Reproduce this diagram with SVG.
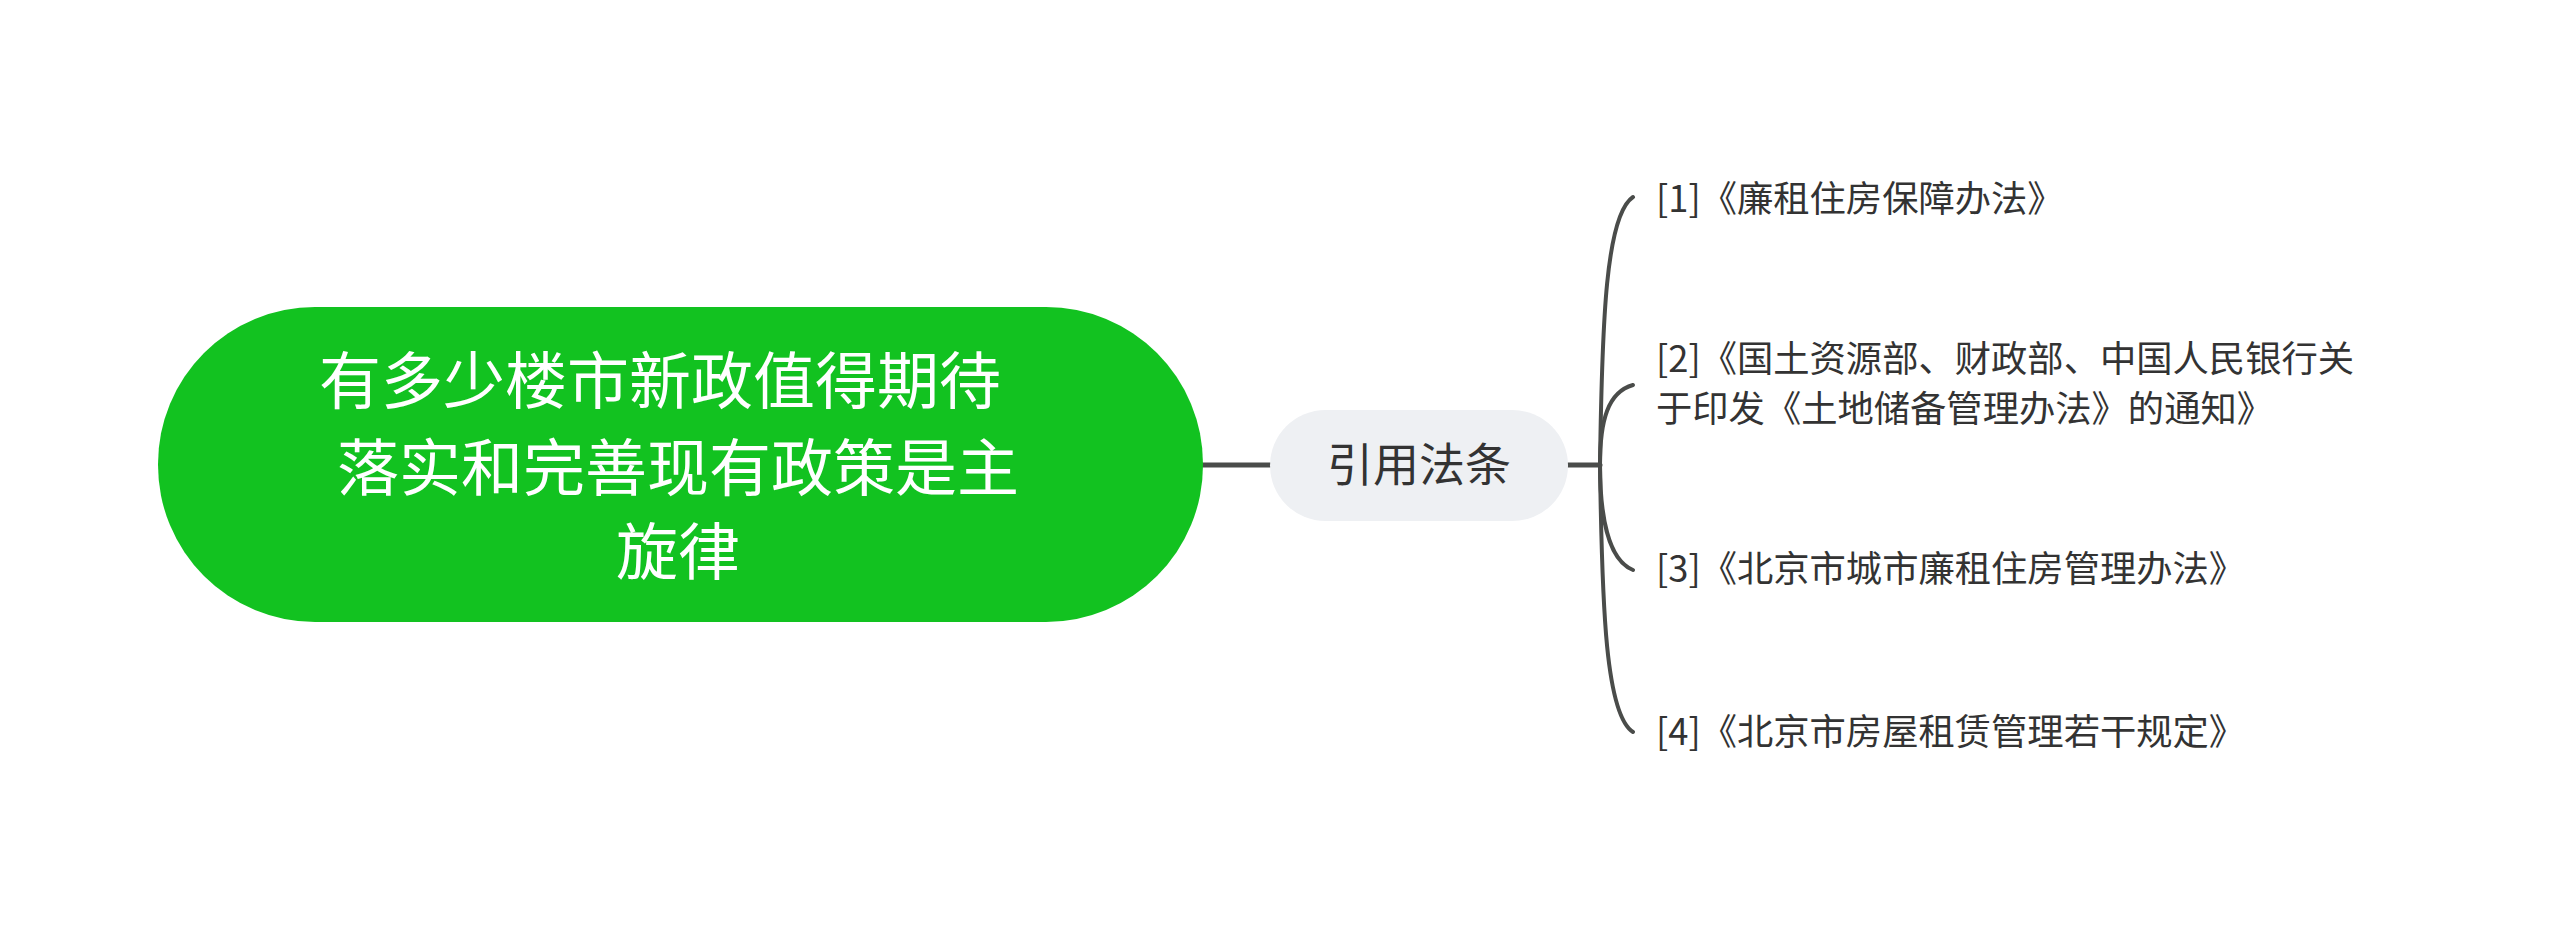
<svg xmlns="http://www.w3.org/2000/svg" width="2560" height="930" viewBox="0 0 2560 930">
<style>
.cn{font-family:"Noto Sans CJK SC","Noto Sans",sans-serif;}
.root-t{font-size:62px;fill:#ffffff;text-anchor:middle;}
.mid-t{font-size:46px;fill:#333333;text-anchor:middle;}
.leaf-t{font-size:36.3px;fill:#333333;}
.conn{fill:none;stroke:#4a4c4a;stroke-linecap:round;}
</style>
<rect width="2560" height="930" fill="#ffffff"/>
<g id="connectors">
<path class="conn" stroke-width="5" d="M1203 465 L1270 465"/>
<path class="conn" stroke-width="5" d="M1568 465 L1600 465"/>
<path class="conn" stroke-width="4" d="M1600 465 C1602 320 1606 215 1633 197"/>
<path class="conn" stroke-width="4" d="M1600 465 C1600 420 1608 392 1633 385"/>
<path class="conn" stroke-width="4" d="M1600 465 C1600 515 1608 560 1633 570"/>
<path class="conn" stroke-width="4" d="M1600 465 C1602 610 1606 715 1633 732"/>
</g>
<g id="root">
<rect x="158" y="307" width="1045" height="315" rx="157" ry="157" fill="#12c220"/>
<text class="cn root-t" x="660" y="404">有多少楼市新政值得期待</text>
<text class="cn root-t" x="678" y="491">落实和完善现有政策是主</text>
<text class="cn root-t" x="678" y="575">旋律</text>
</g>
<g id="mid">
<rect x="1270" y="410" width="298" height="111" rx="55.5" fill="#eef0f3"/>
<text class="cn mid-t" x="1419" y="481">引用法条</text>
</g>
<g id="leaf1">
<text class="cn leaf-t" x="1656" y="212">[1]《廉租住房保障办法》</text>
</g>
<g id="leaf2">
<text class="cn leaf-t" x="1656" y="372">[2]《国土资源部、财政部、中国人民银行关</text>
<text class="cn leaf-t" x="1656" y="422">于印发《土地储备管理办法》的通知》</text>
</g>
<g id="leaf3">
<text class="cn leaf-t" x="1656" y="582">[3]《北京市城市廉租住房管理办法》</text>
</g>
<g id="leaf4">
<text class="cn leaf-t" x="1656" y="745">[4]《北京市房屋租赁管理若干规定》</text>
</g>
</svg>
